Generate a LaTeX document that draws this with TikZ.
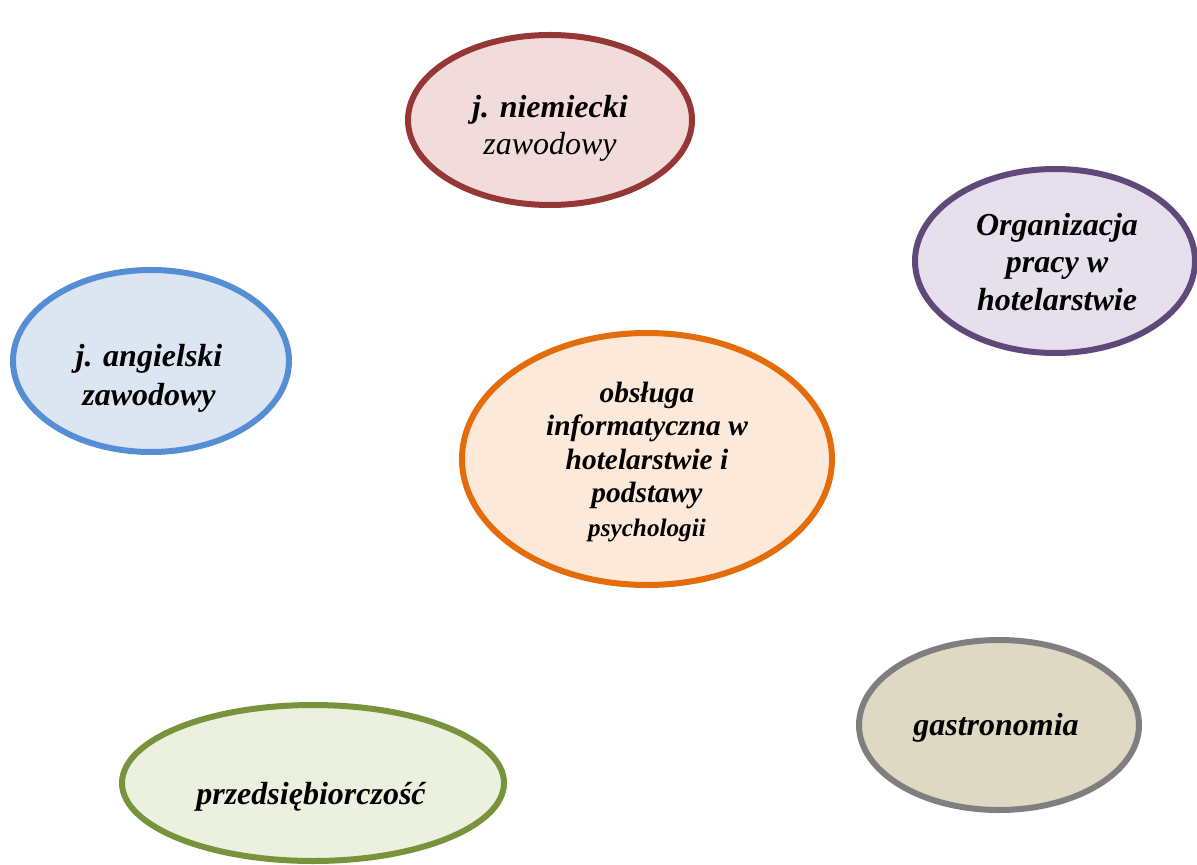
\documentclass[tikz,border=0pt]{standalone}
\usepackage{fontspec}
\setmainfont{Liberation Serif}
\usetikzlibrary{shapes.geometric}

\definecolor{niemline}{HTML}{953735}
\definecolor{niemfill}{HTML}{F2DCDB}
\definecolor{orgline}{HTML}{5F497A}
\definecolor{orgfill}{HTML}{E5E0EC}
\definecolor{angline}{HTML}{558ED5}
\definecolor{angfill}{HTML}{DCE6F2}
\definecolor{infline}{HTML}{E46C0A}
\definecolor{inffill}{HTML}{FDE9D9}
\definecolor{gasline}{HTML}{7F7F7F}
\definecolor{gasfill}{HTML}{DDD9C3}
\definecolor{przline}{HTML}{77933C}
\definecolor{przfill}{HTML}{EBF1DE}

\begin{document}
\begin{tikzpicture}[x=0.5pt,y=-0.5pt,
	subject/.style={ellipse,line width=3pt,inner sep=0pt},
	subjtext/.style={align=center,inner sep=0pt,font=\bfseries\itshape\fontsize{16}{18.5}\selectfont}]
	\useasboundingbox (0,0) rectangle (1197,865);
	% ellipses
	\node[subject,draw=niemline,fill=niemfill,minimum width=142pt,minimum height=85pt] (niem) at (550,120) {};
	\node[subject,draw=orgline,fill=orgfill,minimum width=140pt,minimum height=92pt] (org) at (1055,261) {};
	\node[subject,draw=angline,fill=angfill,minimum width=138pt,minimum height=91pt] (ang) at (151,361) {};
	\node[subject,draw=infline,fill=inffill,minimum width=185pt,minimum height=126pt] (inf) at (647,459) {};
	\node[subject,draw=gasline,fill=gasfill,minimum width=140pt,minimum height=85pt] (gas) at (999,725) {};
	\node[subject,draw=przline,fill=przfill,minimum width=191pt,minimum height=78pt] (prz) at (313,783) {};
	% texts
	\node[subjtext] (niem-t) at (550,128) {j. niemiecki\\{\mdseries zawodowy}};
	\node[subjtext,font=\bfseries\itshape\fontsize{16}{18.75}\selectfont] (org-t) at (1057,262) {Organizacja\\pracy w\\hotelarstwie};
	\node[subjtext,font=\bfseries\itshape\fontsize{16}{19.5}\selectfont] (ang-t) at (149,378) {j. angielski\\zawodowy};
	\node[subjtext,font=\bfseries\itshape\fontsize{14.7}{16.75}\selectfont] (inf-t) at (647,462) {obsługa\\informatyczna w\\hotelarstwie i\\podstawy\\{\fontsize{12.6}{14}\selectfont psychologii}};
	\node[subjtext] (gas-t) at (996,728) {gastronomia};
	\node[subjtext] (prz-t) at (311,797) {przedsiębiorczość};
\end{tikzpicture}
\end{document}
